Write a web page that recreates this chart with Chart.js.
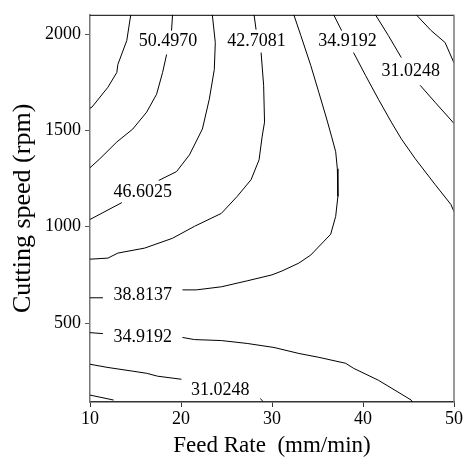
<!DOCTYPE html>
<html>
<head>
<meta charset="utf-8">
<script src="https://cdn.jsdelivr.net/npm/chart.js@4/dist/chart.umd.min.js"></script>
<style>
  body { margin: 0; background: #fff; }
  canvas { display: block; }
</style>
</head>
<body>
<canvas id="contourChart" width="464" height="461"></canvas>
<script>
// contour traces: [feed rate, cutting speed], null = gap for a label
const contour54 = [[14.48,2100],[14.04,1966],[13.06,1842],[12.95,1801],[11.97,1724],[10.22,1621],[10,1615]];
const contour50 = [[19.07,2100],[18.96,2018],null,[18.42,1894],[17.98,1801],[17.32,1688],[16.23,1595],[14.70,1507],[12.95,1440],[11.09,1353],[10,1306]];
const contour46 = [[23.44,2100],[23.77,1956],[23.66,1816],[23.11,1662],[22.35,1507],[20.93,1373],[19.51,1286],[17.55,1240],null,[13.5,1125],[10.22,1043],[10,1038]];
const contour42 = [[28.03,2100],[28.25,2023],null,[28.80,1904],[29.08,1734],[29.18,1543],[28.91,1466],[28.58,1347],[27.70,1244],[26.17,1157],[24.43,1069],[21.48,1002],[19.07,940],[16.01,889],[13.06,863],[11.97,837],[10.22,832],[10,832]];
const contour38 = [[32.40,2100],[33.17,1992],[34.26,1837],[35.14,1698],[36.01,1559],[36.56,1466],[37.00,1389],[37.18,1301],[37.24,1157],[37.00,1054],[36.45,961],[34.26,853],[32.95,811],[31.09,770],[30.0,750],[27.27,719],[24.43,688],[21.69,672],[20.16,672],null,[11.42,631],[10.22,631],[10,631]];
const contour34a = [[36.78,2100],[37.65,2018],null,[38.96,1904],[40.27,1786],[41.69,1662],[43.11,1543],[44.21,1456],[45.74,1353],[47.92,1219],[49.67,1115],[50,1078]];
const contour34b = [[10,450],[11.42,445],null,[20.16,425],[21.48,414],[24.43,409],[27.27,394],[30.22,373],[32.95,342],[35.14,322],[38.09,291],[38.96,265],[41.69,203],[45.30,100],[45.4,90]];
const contour31a = [[41.37,2100],[42.79,1992],[44.21,1878],null,[46.28,1734],[47.92,1646],[50,1536]];
const contour31b = [[10,286],[11.86,270],[14.70,250],[16.23,239],[17.42,224],[20.05,208],null,[28.7,108],[29.0,94]];
const contour27a = [[45.85,2100],[47.49,2018],[49.02,1956],[50,1850]];
const contour27b = [[10,126],[12.6,100]];

const labelText = ['50.4970','42.7081','34.9192','31.0248','46.6025','38.8137','34.9192','31.0248'];
const labelX = [18.56, 28.3, 38.3, 45.25, 15.8, 15.8, 15.8, 24.3];
const labelY = [1961, 1961, 1961, 1806, 1177, 646, 427, 152];

const xTicks = [10, 20, 30, 40, 50];
const yTicks = [500, 1000, 1500, 2000];

const serif = "'Liberation Serif', 'Times New Roman', serif";

// split a trace at its nulls, one dataset per piece
function pieces(trace) {
    let out = [];
    let cur = [];
    for (let p of trace) {
        if (p === null) {
            if (cur.length) out.push(cur);
            cur = [];
        } else {
            cur.push({x: p[0], y: p[1]});
        }
    }
    if (cur.length) out.push(cur);
    return out;
}

let datasets = [];
[contour54, contour50, contour46, contour42, contour38, contour34a, contour34b,
 contour31a, contour31b, contour27a, contour27b].forEach(trace => {
    pieces(trace).forEach(seg => {
        datasets.push({
            data: seg,
            showLine: true,
            borderColor: '#000',
            borderWidth: 1,
            pointRadius: 0,
            tension: 0,
            clip: 0
        });
    });
});

const contourLabels = {
    id: 'contourLabels',
    afterDatasetsDraw(chart) {
        const ctx = chart.ctx;
        const xs = chart.scales.x, ys = chart.scales.y;
        ctx.save();
        ctx.font = '18px ' + serif;
        ctx.fillStyle = '#000';
        ctx.textAlign = 'center';
        ctx.textBaseline = 'middle';
        labelText.forEach((t, i) => {
            ctx.fillText(t, xs.getPixelForValue(labelX[i]), ys.getPixelForValue(labelY[i]));
        });
        ctx.restore();
    }
};

const frame = {
    id: 'frame',
    afterDraw(chart) {
        const a = chart.chartArea;
        const ctx = chart.ctx;
        ctx.save();
        ctx.strokeStyle = '#000';
        ctx.lineWidth = 1;
        ctx.beginPath();
        ctx.moveTo(a.left, a.top + 0.5);
        ctx.lineTo(a.right, a.top + 0.5);
        ctx.stroke();
        ctx.strokeStyle = '#777';
        ctx.lineWidth = 1.5;
        ctx.beginPath();
        ctx.moveTo(a.right, a.top);
        ctx.lineTo(a.right, a.bottom);
        ctx.stroke();
        ctx.restore();
    }
};

new Chart(document.getElementById('contourChart'), {
    type: 'scatter',
    data: { datasets: datasets },
    options: {
        responsive: false,
        devicePixelRatio: 1,
        animation: false,
        layout: { padding: { left: 0, top: 12, right: 8, bottom: 0 } },
        plugins: {
            legend: { display: false },
            tooltip: { enabled: false }
        },
        scales: {
            x: {
                type: 'linear',
                min: 10,
                max: 50,
                afterBuildTicks: s => { s.ticks = xTicks.map(v => ({value: v})); },
                afterFit: s => { s.height = 59; },
                grid: { drawOnChartArea: false, tickLength: 5, color: '#333' },
                border: { color: '#333', width: 1.5 },
                ticks: { color: '#000', font: { family: serif, size: 18 }, padding: 1, maxRotation: 0,
                         callback: v => String(v) },
                title: {
                    display: true,
                    text: 'Feed Rate  (mm/min)',
                    color: '#000',
                    font: { family: serif, size: 23 },
                    padding: { top: 0, bottom: 1 }
                }
            },
            y: {
                type: 'linear',
                min: 90,
                max: 2100,
                afterBuildTicks: s => { s.ticks = yTicks.map(v => ({value: v})); },
                afterFit: s => { s.width = 90; },
                grid: { drawOnChartArea: false, tickLength: 5, color: '#555' },
                border: { color: '#777', width: 1.5 },
                ticks: { color: '#000', font: { family: serif, size: 18 }, padding: 4,
                         callback: v => String(v) },
                title: {
                    display: true,
                    text: 'Cutting speed (rpm)',
                    color: '#000',
                    font: { family: serif, size: 26 },
                    padding: { top: 8, bottom: 0 }
                }
            }
        }
    },
    plugins: [contourLabels, frame]
});
</script>
</body>
</html>
